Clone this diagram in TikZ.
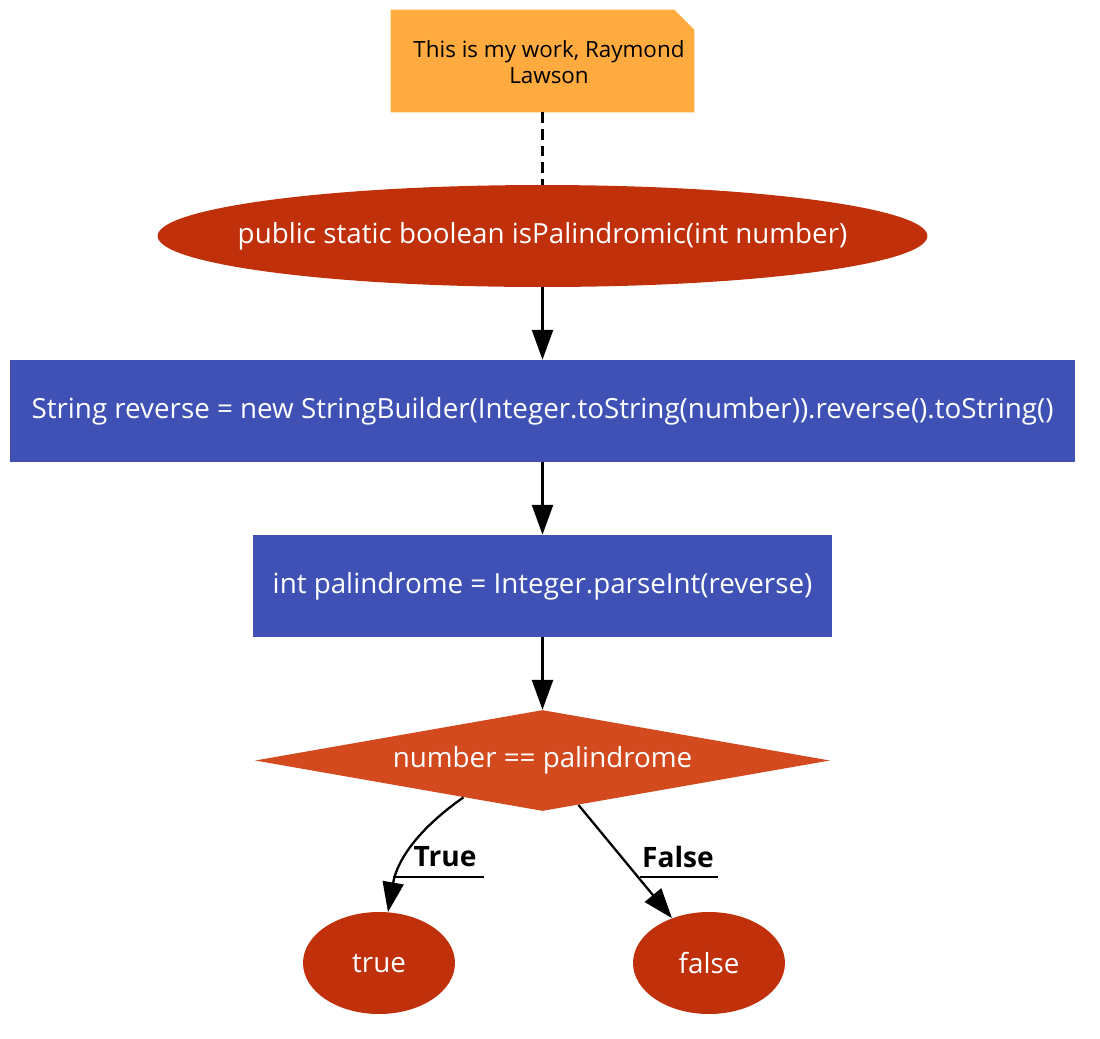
\documentclass[tikz,border=0pt]{standalone}
\usepackage{fontspec}
\setmainfont{Open Sans}
\usetikzlibrary{shapes.geometric,arrows.meta}
\definecolor{notefill}{HTML}{FFAB40}
\definecolor{termfill}{HTML}{C0300A}
\definecolor{stepfill}{HTML}{3F51B5}
\definecolor{testfill}{HTML}{D24A1E}

\begin{document}
\begin{tikzpicture}[x=0.02cm,y=-0.02cm,
  term/.style={shape=ellipse,fill=termfill,text=white,inner sep=0pt,font=\fontsize{15.8}{19}\selectfont},
  stepbox/.style={shape=rectangle,fill=stepfill,text=white,inner sep=0pt,minimum height=2.04cm,font=\fontsize{15.8}{19}\selectfont},
  test/.style={shape=diamond,fill=testfill,text=white,inner sep=0pt,minimum width=11.5cm,minimum height=2.02cm,font=\fontsize{15.8}{19}\selectfont},
  flow/.style={-{Triangle[length=17pt,width=12pt]},draw=black,line width=1.3pt},
  lbl/.style={font=\bfseries\fontsize{16}{19}\selectfont,inner sep=0pt}]
\useasboundingbox (0,0) rectangle (1100,1039);

\node[shape=rectangle,minimum width=6.06cm,minimum height=2.04cm,inner sep=0pt] (note) at (542.5,61) {};
\fill[notefill] (note.south west) |- ([xshift=-0.4cm]note.north east) -- ([yshift=-0.4cm]note.north east) -- (note.south east) -- cycle;
\node[align=center,font=\fontsize{12.75}{15}\selectfont,inner sep=0pt] (notetext) at (549,62) {This is my work, Raymond\\Lawson};

\node[term,minimum width=15.4cm,minimum height=2.04cm] (start) at (542.5,236) {\makebox[0pt]{public static boolean isPalindromic(int number)}};
\node[stepbox,minimum width=21.3cm] (rev) at (542.5,411) {String reverse = new StringBuilder(Integer.toString(number)).reverse().toString()};
\node[stepbox,minimum width=11.58cm] (pal) at (542.5,586) {int palindrome = Integer.parseInt(reverse)};
\node[test] (cmp) at (542.5,760.5) {\makebox[0pt]{number == palindrome}};
\node[term,minimum width=3.04cm,minimum height=2.04cm] (yes) at (379,963) {\makebox[0pt]{true}};
\node[term,minimum width=3.04cm,minimum height=2.04cm] (no) at (709,963) {\makebox[0pt]{false}};

\path [draw=black,line width=1.4pt,dash pattern=on 6pt off 3.5pt] (note) -- (start);
\path [flow] (start) edge node {} (rev);
\path [flow] (rev) edge node {} (pal);
\path [flow] (pal) edge node {} (cmp);
\draw [flow] (cmp.205) to[out=215,in=80] (yes);
\draw [flow] (cmp.-51) -- (no);

\node[lbl] (ltrue) at (445,857) {True};
\node[lbl] (lfalse) at (678,857) {False};
\draw[line width=1.3pt] (393,877) -- (484,877);
\draw[line width=1.3pt] (640,877) -- (718,877);
\end{tikzpicture}
\end{document}
